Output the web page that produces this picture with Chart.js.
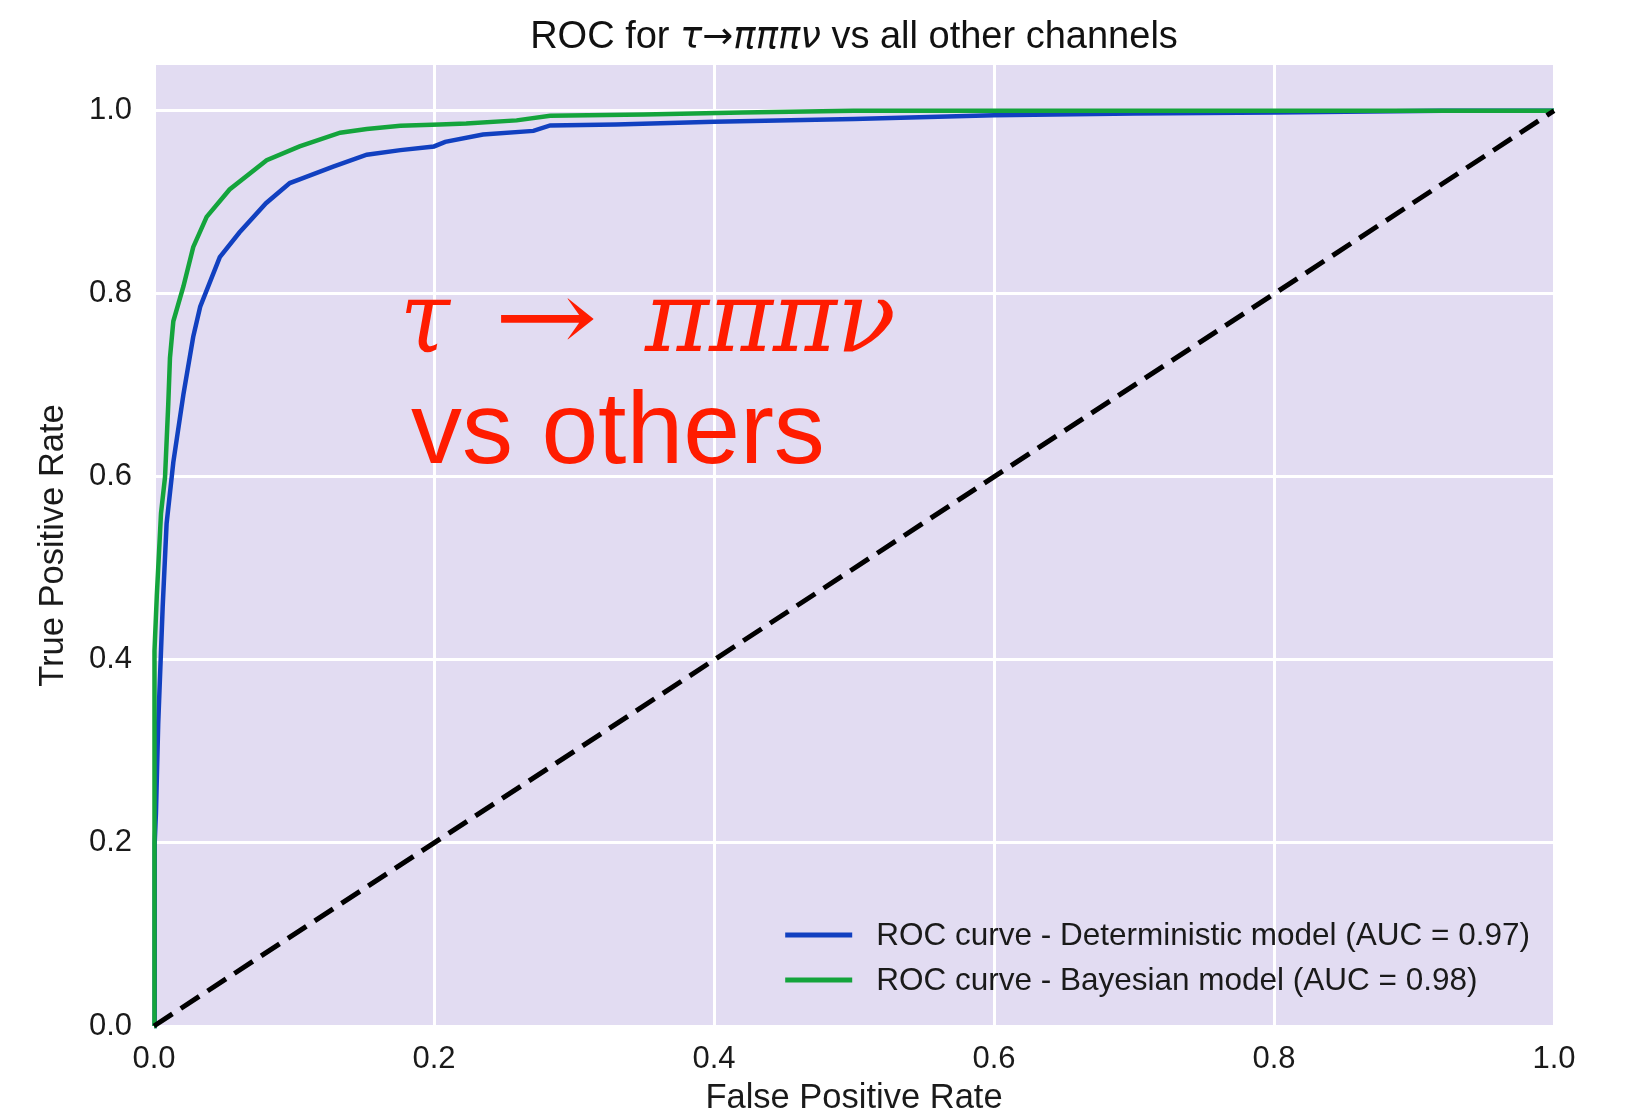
<!DOCTYPE html>
<html>
<head>
<meta charset="utf-8">
<script src="https://cdn.jsdelivr.net/npm/chart.js@4/dist/chart.umd.min.js"></script>
<style>
    body { margin: 0; background: #ffffff; }
    #roc_chart { display: block; }
</style>
</head>
<body>
<canvas id="roc_chart" width="1630" height="1119"></canvas>
<script>
// values
var tick_values = [0.0, 0.2, 0.4, 0.6, 0.8, 1.0];

var det_fpr = [0, 0.0003, 0.0007, 0.0014, 0.003, 0.0062, 0.009, 0.0138, 0.021, 0.028, 0.033, 0.047, 0.061, 0.080,
    0.097, 0.104, 0.128, 0.152, 0.176, 0.2, 0.208, 0.235, 0.271, 0.283, 0.33, 0.4, 0.5, 0.6, 0.7, 0.8, 0.92, 1.0];
var det_tpr = [0, 0.10, 0.20, 0.233, 0.33, 0.458, 0.549, 0.616, 0.69, 0.753, 0.786, 0.840, 0.867, 0.899,
    0.921, 0.925, 0.939, 0.952, 0.957, 0.961, 0.966, 0.974, 0.978, 0.984, 0.985, 0.988, 0.991, 0.995, 0.997, 0.998, 1.0, 1.0];

var bay_fpr = [0, 0, 0.0007, 0.002, 0.003, 0.005, 0.0079, 0.0102, 0.0114, 0.0138, 0.021, 0.028, 0.0376, 0.054,
    0.0805, 0.104, 0.133, 0.152, 0.176, 0.204, 0.223, 0.259, 0.283, 0.35, 0.42, 0.5, 1.0];
var bay_tpr = [0, 0.29, 0.41, 0.47, 0.50, 0.56, 0.60, 0.68, 0.73, 0.77, 0.808, 0.851, 0.884, 0.914,
    0.946, 0.961, 0.976, 0.980, 0.9836, 0.985, 0.986, 0.9895, 0.9945, 0.996, 0.998, 1.0, 1.0];

var chance_x = [0, 1];
var chance_y = [0, 1];

var series_labels = ['ROC curve - Deterministic model (AUC = 0.97)', 'ROC curve - Bayesian model (AUC = 0.98)'];

function to_points(xs, ys) {
    var pts = [];
    for (let i = 0; i < xs.length; i++) {
        pts.push({x: xs[i], y: ys[i]});
    }
    return pts;
}

var sans = '"Liberation Sans", Arial, Helvetica, sans-serif';
var serif = '"DejaVu Serif", serif';

// draw txt starting at x, stretched sideways so that it is w pixels wide
function stretched_text(ctx, txt, x, y, w) {
    let tw = ctx.measureText(txt).width;
    ctx.save();
    ctx.translate(x, y);
    ctx.scale(w / tw, 1);
    ctx.fillText(txt, 0, 0);
    ctx.restore();
}

var decorations = {
    id: 'decorations',
    beforeDraw: function (chart) {
        let ctx = chart.ctx;
        let a = chart.chartArea;
        ctx.save();
        ctx.fillStyle = '#e2dcf2';
        ctx.fillRect(a.left, a.top, a.right - a.left, a.bottom - a.top);
        ctx.restore();
    },
    afterDraw: function (chart) {
        let ctx = chart.ctx;
        let a = chart.chartArea;
        let xs = chart.scales.x;
        let ys = chart.scales.y;
        ctx.save();

        // title with the math part in italics
        let parts = [
            ['ROC for ', '38px ' + sans],
            ['\u03c4\u2192\u03c0\u03c0\u03c0\u03bd', 'italic 37px "DejaVu Sans", sans-serif'],
            [' vs all other channels', '38px ' + sans]
        ];
        let total = 0;
        for (let i = 0; i < parts.length; i++) {
            ctx.font = parts[i][1];
            total += ctx.measureText(parts[i][0]).width;
        }
        let tx = (a.left + a.right) / 2 - total / 2;
        ctx.fillStyle = '#111111';
        ctx.textBaseline = 'middle';
        ctx.textAlign = 'left';
        for (let i = 0; i < parts.length; i++) {
            ctx.font = parts[i][1];
            ctx.fillText(parts[i][0], tx, 38);
            tx += ctx.measureText(parts[i][0]).width;
        }

        // legend, bottom right inside the axes
        let datasets = chart.data.datasets;
        ctx.font = '31.5px ' + sans;
        let text_w = ctx.measureText(series_labels[0]).width;
        let lx = a.right - 24 - text_w - 24 - 67;
        let rows = [a.bottom - 91, a.bottom - 46];
        let legend_ds = [2, 1];
        for (let i = 0; i < 2; i++) {
            let ds = datasets[legend_ds[i]];
            ctx.strokeStyle = ds.borderColor;
            ctx.lineWidth = 5;
            ctx.beginPath();
            ctx.moveTo(lx, rows[i]);
            ctx.lineTo(lx + 67, rows[i]);
            ctx.stroke();
            ctx.fillStyle = '#1a1a1a';
            ctx.textBaseline = 'middle';
            ctx.fillText(ds.label, lx + 91, rows[i] + 1);
        }

        // red annotation
        ctx.fillStyle = '#ff1c00';
        ctx.textBaseline = 'alphabetic';
        let base1 = ys.getPixelForValue(0.7375);
        let base2 = ys.getPixelForValue(0.615);
        ctx.font = 'italic 100px ' + serif;
        stretched_text(ctx, '\u03c4', xs.getPixelForValue(0.1757), base1, 50);
        stretched_text(ctx, '\u03c0\u03c0\u03c0\u03bd', xs.getPixelForValue(0.3507), base1, 251);
        ctx.font = '100px ' + serif;
        stretched_text(ctx, '\u2192', xs.getPixelForValue(0.2429), base1, 104);
        ctx.font = '102px ' + sans;
        ctx.fillText('vs others', xs.getPixelForValue(0.1836), base2);

        // original picture is cut off at the right
        ctx.fillStyle = '#ffffff';
        ctx.fillRect(1577, 0, chart.width - 1577, chart.height);
        ctx.restore();
    }
};

var roc_chart = new Chart(document.getElementById('roc_chart').getContext("2d"), {
    type: 'scatter',
    data: {
        datasets: [{
            label: 'chance',
            data: to_points(chance_x, chance_y),
            showLine: true,
            borderColor: '#000000',
            borderWidth: 5,
            borderDash: [22, 10],
            pointRadius: 0,
            clip: 10,
            order: 0
        }, {
            label: series_labels[1],
            data: to_points(bay_fpr, bay_tpr),
            showLine: true,
            borderColor: '#14a43c',
            borderWidth: 4.5,
            pointRadius: 0,
            tension: 0,
            clip: 10,
            order: 1
        }, {
            label: series_labels[0],
            data: to_points(det_fpr, det_tpr),
            showLine: true,
            borderColor: '#1140c0',
            borderWidth: 4.5,
            pointRadius: 0,
            tension: 0,
            clip: 10,
            order: 2
        }]
    },
    options: {
        responsive: false,
        animation: false,
        devicePixelRatio: 1,
        layout: {
            padding: {top: 65, right: 76, left: 0, bottom: 0}
        },
        plugins: {
            legend: {display: false},
            title: {display: false},
            tooltip: {enabled: false}
        },
        scales: {
            x: {
                type: 'linear',
                min: 0,
                max: 1.0,
                afterFit: function (scale) { scale.height = 93; },
                afterBuildTicks: function (scale) {
                    scale.ticks = tick_values.map(function (v) { return {value: v}; });
                },
                grid: {color: '#ffffff', lineWidth: 3, drawTicks: false},
                border: {display: false},
                ticks: {
                    padding: 15,
                    color: '#1a1a1a',
                    font: {family: sans, size: 31},
                    maxRotation: 0,
                    callback: function (value) { return value.toFixed(1); }
                },
                title: {
                    display: true,
                    text: 'False Positive Rate',
                    color: '#1a1a1a',
                    font: {family: sans, size: 34.5, lineHeight: 1.2},
                    padding: {top: 0, bottom: 0}
                }
            },
            y: {
                type: 'linear',
                min: 0,
                max: 1.05,
                afterFit: function (scale) { scale.width = 154; },
                afterBuildTicks: function (scale) {
                    scale.ticks = tick_values.map(function (v) { return {value: v}; });
                },
                grid: {color: '#ffffff', lineWidth: 3, drawTicks: false},
                border: {display: false},
                ticks: {
                    padding: 22,
                    color: '#1a1a1a',
                    font: {family: sans, size: 31},
                    callback: function (value) { return value.toFixed(1); }
                },
                title: {
                    display: true,
                    text: 'True Positive Rate',
                    color: '#1a1a1a',
                    font: {family: sans, size: 34.5, lineHeight: 1.2},
                    padding: {top: 33, bottom: 0}
                }
            }
        }
    },
    plugins: [decorations]
});
</script>
</body>
</html>
